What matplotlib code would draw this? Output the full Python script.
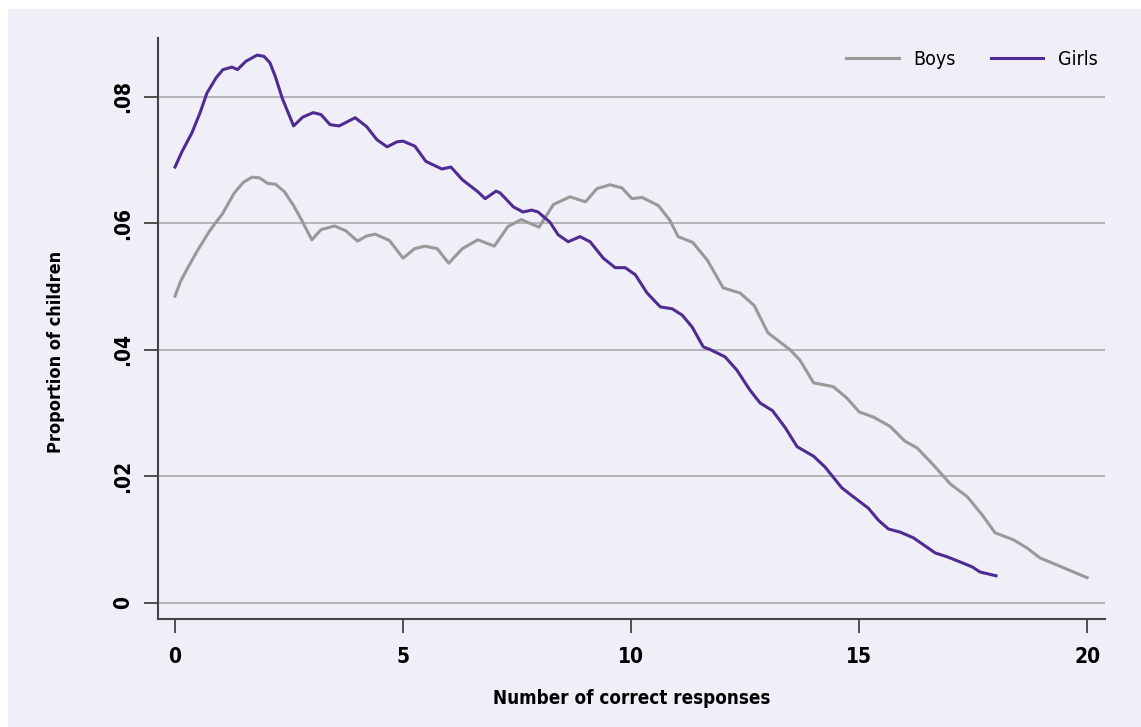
import matplotlib.pyplot as plt
from matplotlib.patches import Rectangle

# Data
boys_x = [0, 0.12, 0.25, 0.5, 0.75, 0.9, 1.03, 1.3, 1.5, 1.69, 1.85, 2.04, 2.2, 2.4,
          2.6, 2.74, 3.0, 3.2, 3.5, 3.75, 4.0, 4.2, 4.39, 4.7, 5.0, 5.25, 5.48, 5.75,
          6.0, 6.3, 6.64, 7.0, 7.3, 7.59, 7.98, 8.3, 8.66, 9.0, 9.25, 9.54, 9.8, 10.02,
          10.24, 10.6, 10.85, 11.03, 11.35, 11.67, 12.02, 12.39, 12.7, 13.0, 13.49,
          13.7, 14.0, 14.43, 14.73, 15.0, 15.31, 15.68, 16.0, 16.27, 16.63, 17.0,
          17.37, 17.7, 17.98, 18.38, 18.68, 18.97, 19.34, 19.7, 20.0]
boys_y = [0.0485, 0.0508, 0.0526, 0.0558, 0.0587, 0.0602, 0.0614, 0.0648, 0.0665,
          0.0673, 0.0672, 0.0663, 0.0662, 0.0650, 0.0628, 0.0610, 0.0574, 0.0590,
          0.0596, 0.0588, 0.0572, 0.0580, 0.0583, 0.0573, 0.0545, 0.0560, 0.0564,
          0.0560, 0.0537, 0.0560, 0.0574, 0.0564, 0.0595, 0.0606, 0.0594, 0.0630,
          0.0642, 0.0634, 0.0655, 0.0661, 0.0656, 0.0639, 0.0641, 0.0628, 0.0605,
          0.0579, 0.0570, 0.0542, 0.0498, 0.0490, 0.0470, 0.0427, 0.0400, 0.0384,
          0.0348, 0.0342, 0.0324, 0.0302, 0.0294, 0.0279, 0.0256, 0.0245, 0.0218,
          0.0188, 0.0168, 0.0139, 0.0111, 0.0100, 0.0087, 0.0071, 0.0060, 0.0049,
          0.0040]

girls_x = [0, 0.15, 0.37, 0.55, 0.7, 0.9, 1.05, 1.25, 1.37, 1.55, 1.8, 1.95, 2.08,
           2.2, 2.35, 2.6, 2.8, 3.03, 3.2, 3.4, 3.6, 3.95, 4.2, 4.43, 4.65, 4.87,
           5.0, 5.26, 5.5, 5.85, 6.05, 6.3, 6.64, 6.8, 7.04, 7.13, 7.42, 7.63, 7.82,
           7.96, 8.22, 8.4, 8.62, 8.88, 9.1, 9.39, 9.65, 9.87, 10.09, 10.35, 10.64,
           10.9, 11.12, 11.34, 11.58, 11.75, 12.06, 12.32, 12.6, 12.83, 13.1, 13.38,
           13.64, 14.0, 14.25, 14.43, 14.62, 14.87, 15.2, 15.42, 15.64, 15.9, 16.19,
           16.45, 16.67, 16.93, 17.21, 17.48, 17.65, 18.0]
girls_y = [0.0689, 0.0713, 0.0743, 0.0775, 0.0806, 0.0830, 0.0843, 0.0847, 0.0843,
           0.0856, 0.0866, 0.0864, 0.0854, 0.0832, 0.0798, 0.0754, 0.0768, 0.0775,
           0.0772, 0.0756, 0.0754, 0.0767, 0.0753, 0.0732, 0.0721, 0.0729, 0.0730,
           0.0722, 0.0698, 0.0686, 0.0689, 0.0669, 0.0650, 0.0639, 0.0651, 0.0648,
           0.0626, 0.0618, 0.0621, 0.0618, 0.0602, 0.0582, 0.0571, 0.0579, 0.0571,
           0.0545, 0.0530, 0.0530, 0.0519, 0.0490, 0.0468, 0.0465, 0.0455, 0.0436,
           0.0405, 0.0400, 0.0389, 0.0368, 0.0337, 0.0316, 0.0304, 0.0277, 0.0247,
           0.0232, 0.0215, 0.0199, 0.0182, 0.0168, 0.0150, 0.0131, 0.0117, 0.0112,
           0.0103, 0.0090, 0.0079, 0.0073, 0.0065, 0.0057, 0.0049, 0.0043]

x_ticks = [0, 5, 10, 15, 20]
y_ticks = [0, 0.02, 0.04, 0.06, 0.08]
y_tick_labels = ["0", ".02", ".04", ".06", ".08"]

bg = "#f0eff8"
font = ["DejaVu Sans"]
stretch = "condensed"

W, H = 1141, 727
fig = plt.figure(figsize=(W / 100, H / 100), dpi=100, facecolor="white")
fig.patches.append(Rectangle((8 / W, 0), 1, 1 - 9 / H, transform=fig.transFigure,
                             facecolor=bg, edgecolor="none", zorder=-1))

ax = fig.add_axes([158 / W, 1 - 619 / H, (1105 - 158) / W, (619 - 38) / H])
ax.set_facecolor(bg)

ax.plot(boys_x, boys_y, color="#999999", lw=2.2, label="Boys", solid_joinstyle="round")
ax.plot(girls_x, girls_y, color="#4f2c92", lw=2.2, label="Girls", solid_joinstyle="round")

ax.set_xlim(-0.373, 20.39)
ax.set_ylim(-0.00253, 0.0893)

ax.set_xticks(x_ticks)
ax.set_xticklabels([str(t) for t in x_ticks], fontfamily=font, fontweight="bold",
                   fontsize=15, fontstretch=stretch)
ax.set_yticks(y_ticks)
ax.set_yticklabels(y_tick_labels, fontfamily=font, fontweight="bold", fontsize=15,
                   fontstretch=stretch, rotation=90, va="center")
ax.tick_params(axis="x", length=10, width=1.2, color="#333333", pad=10)
ax.tick_params(axis="y", length=10, width=1.2, color="#333333", pad=8)

ax.grid(axis="y", color="#aaaaaa", lw=1.2)
ax.set_axisbelow(True)
for s in ["top", "right"]:
    ax.spines[s].set_visible(False)
for s in ["left", "bottom"]:
    ax.spines[s].set_color("#444444")
    ax.spines[s].set_linewidth(1.5)

ax.set_xlabel("Number of correct responses", fontfamily=font, fontweight="bold",
              fontsize=13.5, fontstretch=stretch, labelpad=16)
ax.set_ylabel("Proportion of children", fontfamily=font, fontweight="bold",
              fontsize=13, fontstretch=stretch)
ax.yaxis.set_label_coords(-0.0982, 0.46)

ax.legend(loc="upper right", ncol=2, frameon=False,
          prop={"family": font, "size": 14, "stretch": stretch},
          handlelength=2.7, handletextpad=0.75, columnspacing=1.8,
          bbox_to_anchor=(1.0106, 1.01))

fig.savefig("out.png", dpi=100, facecolor=fig.get_facecolor())
